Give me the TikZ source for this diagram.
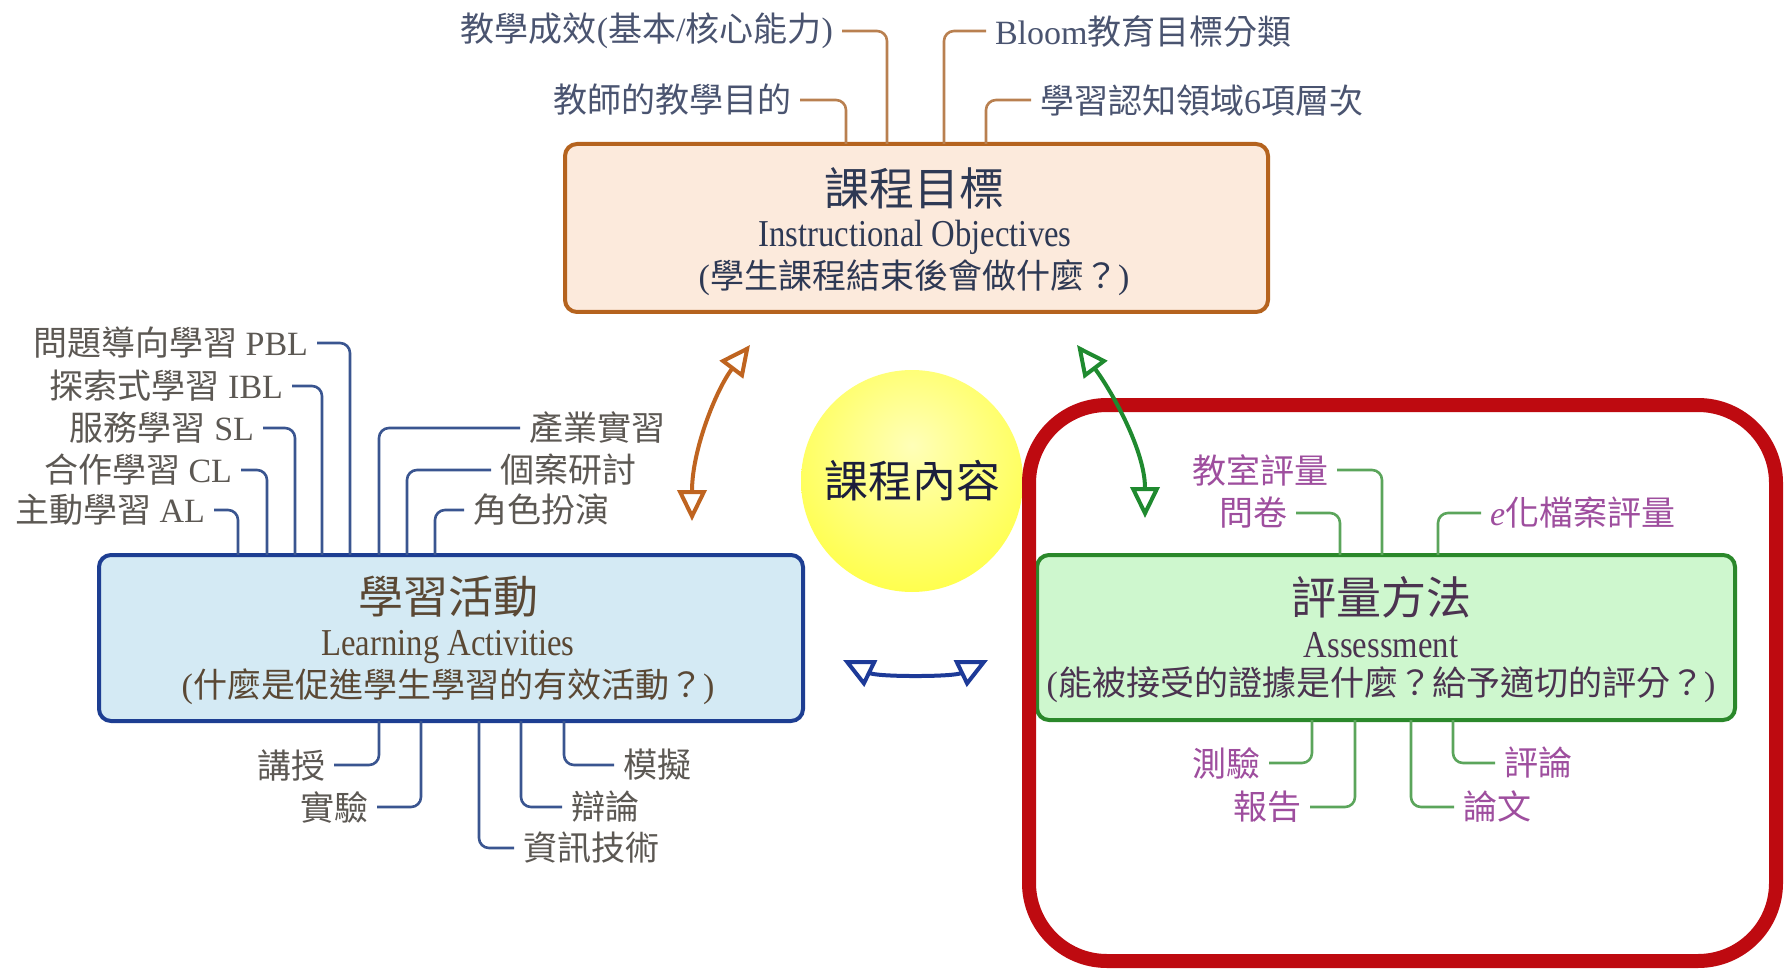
\documentclass[tikz,border=0pt]{standalone}
\usepackage{fontspec}
\setmainfont{Liberation Serif}
\newfontfamily\cjk{Noto Sans CJK TC}
\newfontfamily\engcond{Liberation Serif}[FakeStretch=0.86]
\usetikzlibrary{arrows.meta}
\definecolor{cTline}{HTML}{B5631E}
\definecolor{cTfill}{HTML}{FCEADC}
\definecolor{cTconn}{HTML}{B98050}
\definecolor{cTtext}{HTML}{2E3954}
\definecolor{cTlab}{HTML}{4A5470}
\definecolor{cLline}{HTML}{1D3E92}
\definecolor{cLfill}{HTML}{D4EAF4}
\definecolor{cLconn}{HTML}{3A5590}
\definecolor{cLtext}{HTML}{5A4834}
\definecolor{cLlab}{HTML}{5C5853}
\definecolor{cRline}{HTML}{2A882A}
\definecolor{cRfill}{HTML}{CEF7CE}
\definecolor{cRconn}{HTML}{5BA55B}
\definecolor{cRtext}{HTML}{4B3350}
\definecolor{cRlab}{HTML}{9E4E9E}
\definecolor{cOarrow}{HTML}{BF6420}
\definecolor{cGarrow}{HTML}{1F8A2F}
\definecolor{cBarrow}{HTML}{1D3A98}
\definecolor{cRed}{HTML}{BE0A10}
\definecolor{cCore}{HTML}{1C1E3C}
\definecolor{sunin}{HTML}{FFFFB8}
\definecolor{sunmid}{HTML}{FFFF50}
\definecolor{sunout}{HTML}{F6F600}
\pgfdeclareradialshading{sunball}{\pgfpoint{0bp}{8bp}}{color(0bp)=(sunin); color(30bp)=(sunmid); color(50bp)=(sunout); color(100bp)=(sunout)}
\begin{document}
\begin{tikzpicture}[x=1pt,y=-1pt,
  box/.style={rectangle, rounded corners=12pt, line width=4pt, outer sep=0pt, inner sep=0pt},
  lab/.style={inner xsep=0pt, inner ysep=0pt, outer xsep=9pt, outer ysep=0pt, font=\fontsize{34}{40}\selectfont},
  conn/.style={line width=2.6pt, rounded corners=10pt},
  ttl/.style={inner sep=0pt, font=\fontsize{45}{50}\selectfont\cjk},
  eng/.style={inner sep=0pt, font=\fontsize{38}{42}\selectfont\engcond},
  sub/.style={inner sep=0pt, font=\fontsize{34}{40}\selectfont},
  arr/.style={line width=4pt, arrows={Triangle[open,length=31pt,width=29pt]-Triangle[open,length=31pt,width=29pt]}}
]
\useasboundingbox (0,0) rectangle (1787,973);
\fill[white] (0,0) rectangle (1787,973);

% boxes
\node[box, draw=cTline, fill=cTfill, minimum width=703pt, minimum height=168pt] (tbox) at (916.5,228) {};
\node[box, draw=cLline, fill=cLfill, minimum width=704pt, minimum height=166pt] (lbox) at (451,638) {};
\node[box, draw=cRline, fill=cRfill, minimum width=698pt, minimum height=165pt] (rbox) at (1386,637.5) {};

% box texts
\node[ttl, text=cTtext] (ttitle) at (914,188) {課程目標};
\node[eng, text=cTtext] (teng) at (915,237) {Instructional Objectives};
\node[sub, text=cTtext] (tsub) at (914,278) {({\cjk 學生課程結束後會做什麼？})};

\node[ttl, text=cLtext] (ltitle) at (448,597) {學習活動};
\node[eng, text=cLtext] (leng) at (448,647) {Learning Activities};
\node[sub, text=cLtext] (lsub) at (448,687) {({\cjk 什麼是促進學生學習的有效活動？})};

\node[ttl, text=cRtext] (rtitle) at (1381,597) {評量方法};
\node[eng, text=cRtext] (reng) at (1381,645) {Assessment};
\node[sub, text=cRtext] (rsub) at (1381,685) {({\cjk 能被接受的證據是什麼？給予適切的評分？})};

% top labels
\node[lab, text=cTlab, anchor=east] (ta) at (842,31) {{\cjk 教學成效}({\cjk 基本}/{\cjk 核心能力})};
\node[lab, text=cTlab, anchor=east] (tb) at (800,100) {{\cjk 教師的教學目的}};
\node[lab, text=cTlab, anchor=west] (tc) at (986,31) {Bloom{\cjk 教育目標分類}};
\node[lab, text=cTlab, anchor=west] (td) at (1031,100) {{\cjk 學習認知領域}6{\cjk 項層次}};
\draw[conn, cTconn] (ta.east) -| ([xshift=322pt]tbox.north west);
\draw[conn, cTconn] (tb.east) -| ([xshift=281pt]tbox.north west);
\draw[conn, cTconn] (tc.west) -| ([xshift=379pt]tbox.north west);
\draw[conn, cTconn] (td.west) -| ([xshift=421pt]tbox.north west);

% left box labels
\node[lab, text=cLlab, anchor=east] (pbl) at (317,343) {{\cjk 問題導向學習} PBL};
\node[lab, text=cLlab, anchor=east] (ibl) at (292,386) {{\cjk 探索式學習} IBL};
\node[lab, text=cLlab, anchor=east] (sl) at (263,428) {{\cjk 服務學習} SL};
\node[lab, text=cLlab, anchor=east] (cl) at (241,470) {{\cjk 合作學習} CL};
\node[lab, text=cLlab, anchor=east] (al) at (214,510) {{\cjk 主動學習} AL};
\node[lab, text=cLlab, anchor=west] (cy) at (520,428) {{\cjk 產業實習}};
\node[lab, text=cLlab, anchor=west] (ga) at (491,470) {{\cjk 個案研討}};
\node[lab, text=cLlab, anchor=west] (js) at (464,510) {{\cjk 角色扮演}};
\draw[conn, cLconn] (pbl.east) -| ([xshift=251pt]lbox.north west);
\draw[conn, cLconn] (ibl.east) -| ([xshift=223pt]lbox.north west);
\draw[conn, cLconn] (sl.east) -| ([xshift=196pt]lbox.north west);
\draw[conn, cLconn] (cl.east) -| ([xshift=168pt]lbox.north west);
\draw[conn, cLconn] (al.east) -| ([xshift=139pt]lbox.north west);
\draw[conn, cLconn] (cy.west) -| ([xshift=280pt]lbox.north west);
\draw[conn, cLconn] (ga.west) -| ([xshift=308pt]lbox.north west);
\draw[conn, cLconn] (js.west) -| ([xshift=336pt]lbox.north west);

\node[lab, text=cLlab, anchor=east] (js1) at (334,765) {{\cjk 講授}};
\node[lab, text=cLlab, anchor=east] (sy) at (377,807) {{\cjk 實驗}};
\node[lab, text=cLlab, anchor=west] (zx) at (514,848) {{\cjk 資訊技術}};
\node[lab, text=cLlab, anchor=west] (bl) at (562,807) {{\cjk 辯論}};
\node[lab, text=cLlab, anchor=west] (mn) at (614,765) {{\cjk 模擬}};
\draw[conn, cLconn] ([xshift=280pt]lbox.south west) |- (js1.east);
\draw[conn, cLconn] ([xshift=322pt]lbox.south west) |- (sy.east);
\draw[conn, cLconn] ([xshift=380pt]lbox.south west) |- (zx.west);
\draw[conn, cLconn] ([xshift=422pt]lbox.south west) |- (bl.west);
\draw[conn, cLconn] ([xshift=465pt]lbox.south west) |- (mn.west);

% right box labels
\node[lab, text=cRlab, anchor=east] (jspl) at (1337,470) {{\cjk 教室評量}};
\node[lab, text=cRlab, anchor=east] (wj) at (1296,513) {{\cjk 問卷}};
\node[lab, text=cRlab, anchor=west] (eh) at (1481,513) {\textit{e}{\cjk 化檔案評量}};
\draw[conn, cRconn] (jspl.east) -| ([xshift=345pt]rbox.north west);
\draw[conn, cRconn] (wj.east) -| ([xshift=303pt]rbox.north west);
\draw[conn, cRconn] (eh.west) -| ([xshift=401pt]rbox.north west);

\node[lab, text=cRlab, anchor=east] (cyan) at (1269,763) {{\cjk 測驗}};
\node[lab, text=cRlab, anchor=east] (bg) at (1310,807) {{\cjk 報告}};
\node[lab, text=cRlab, anchor=west] (lw) at (1454,807) {{\cjk 論文}};
\node[lab, text=cRlab, anchor=west] (pl) at (1495,763) {{\cjk 評論}};
\draw[conn, cRconn] ([xshift=275pt]rbox.south west) |- (cyan.east);
\draw[conn, cRconn] ([xshift=318pt]rbox.south west) |- (bg.east);
\draw[conn, cRconn] ([xshift=374pt]rbox.south west) |- (lw.west);
\draw[conn, cRconn] ([xshift=416pt]rbox.south west) |- (pl.west);

% core circle
\node[circle, minimum size=222pt, inner sep=0pt, shade, shading=sunball] (core) at (912,481) {};
\node[inner sep=0pt, text=cCore, font=\fontsize{44}{50}\selectfont\cjk] (coretxt) at (core.center) {課程內容};

% red focus frame
\node[draw=cRed, line width=14pt, rounded corners=78pt, minimum width=747pt, minimum height=556pt, inner sep=0pt, outer sep=0pt] (focus) at (1402.5,683) {};

% arrows
\coordinate (oa1) at (750,345);
\coordinate (oa2) at (692,521);
\coordinate (ga1) at (1077,345);
\coordinate (ga2) at (1145,518);
\coordinate (ba1) at (843,660);
\coordinate (ba2) at (988,660);
\draw[arr, cOarrow] (oa1) .. controls (716,390) and (692,450) .. (oa2);
\draw[arr, cGarrow] (ga1) .. controls (1111,390) and (1145,450) .. (ga2);
\draw[arr, cBarrow] (ba1) .. controls (878,677) and (953,677) .. (ba2);
\end{tikzpicture}
\end{document}
